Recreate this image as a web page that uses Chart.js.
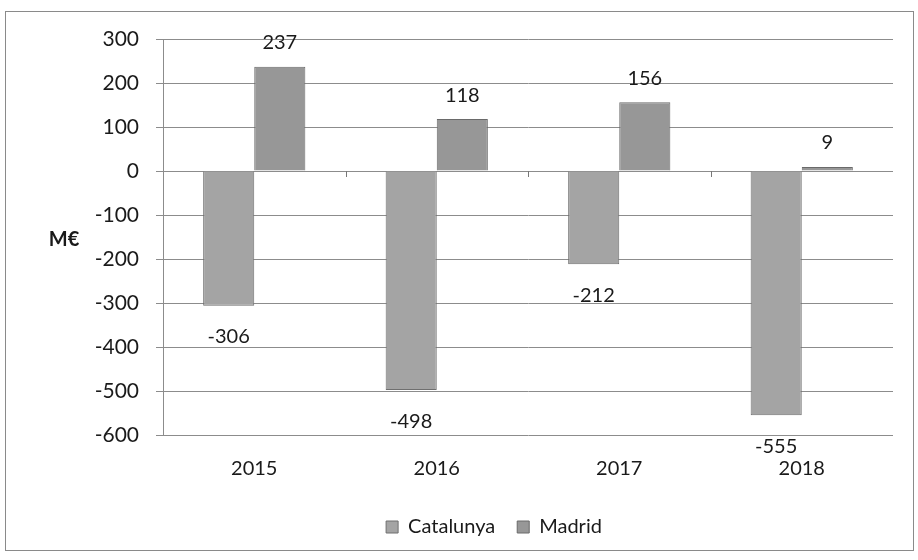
<!DOCTYPE html>
<html>
<head>
<meta charset="utf-8">
<script src="https://cdn.jsdelivr.net/npm/chart.js@4"></script>
<style>
  html, body { margin: 0; padding: 0; background: #fff; }
  #wrap { position: relative; width: 918px; height: 560px; }
</style>
</head>
<body>
<div id="wrap"><canvas id="c" width="918" height="560"></canvas></div>
<script>
const years = ['2015', '2016', '2017', '2018'];
const catalunya = [-306, -498, -212, -555];
const madrid = [237, 118, 156, 9];
const yTicks = { min: -600, max: 300, step: 100 };

const fontFamily = "Lato, 'Open Sans', sans-serif";

// frame, axis title, value labels, small ticks on the zero line
const decor = {
  id: 'decor',
  beforeDraw(chart) {
    const ctx = chart.ctx;
    ctx.save();
    ctx.fillStyle = '#fff';
    ctx.fillRect(0, 0, chart.width, chart.height);
    ctx.strokeStyle = '#8a8a8a';
    ctx.lineWidth = 1;
    ctx.strokeRect(5.5, 11.5, 908, 539);
    ctx.restore();
  },
  afterDatasetsDraw(chart) {
    const ctx = chart.ctx;
    const x = chart.scales.x, y = chart.scales.y;
    ctx.save();
    // tick marks on the zero line between categories
    const y0 = y.getPixelForValue(0);
    ctx.strokeStyle = '#777';
    ctx.lineWidth = 1;
    for (let i = 1; i < years.length; i++) {
      const px = Math.round((x.getPixelForTick(i - 1) + x.getPixelForTick(i)) / 2) + 0.5;
      ctx.beginPath();
      ctx.moveTo(px, y0);
      ctx.lineTo(px, y0 + 6);
      ctx.stroke();
    }
    // value labels
    ctx.fillStyle = '#1a1a1a';
    ctx.font = "20px " + fontFamily;
    ctx.textAlign = 'center';
    ctx.textBaseline = 'middle';
    chart.data.datasets.forEach((ds, di) => {
      chart.getDatasetMeta(di).data.forEach((bar, i) => {
        const v = ds.data[i];
        const off = v < 0 ? 31 : -24;
        ctx.fillText(String(v), bar.x, bar.y + off);
      });
    });
    // axis title
    ctx.font = "bold 20px " + fontFamily;
    ctx.fillText('M€', 64, 240);
    ctx.restore();
  }
};

new Chart(document.getElementById('c'), {
  type: 'bar',
  data: {
    labels: years,
    datasets: [
      { label: 'Catalunya', data: catalunya, backgroundColor: '#a4a4a4', borderColor: '#6f6f6f', borderWidth: 1 },
      { label: 'Madrid', data: madrid, backgroundColor: '#979797', borderColor: '#6a6a6a', borderWidth: 1 }
    ]
  },
  options: {
    responsive: false,
    animation: false,
    layout: { padding: { left: 95, right: 25, top: 39, bottom: 13 } },
    datasets: { bar: { barPercentage: 1, categoryPercentage: 0.56 } },
    plugins: {
      legend: {
        position: 'bottom',
        labels: {
          boxWidth: 12, boxHeight: 12, padding: 22,
          color: '#1a1a1a',
          font: { family: fontFamily, size: 20 }
        }
      },
      tooltip: { enabled: false }
    },
    scales: {
      x: {
        grid: { display: false },
        border: { display: false },
        ticks: { color: '#1a1a1a', padding: 14, font: { family: fontFamily, size: 20 } }
      },
      y: {
        min: yTicks.min, max: yTicks.max,
        afterFit(scale) { scale.width = 68; },
        ticks: { stepSize: yTicks.step, color: '#1a1a1a', padding: 17, font: { family: fontFamily, size: 21 } },
        grid: { color: '#8c8c8c', tickLength: 7, lineWidth: 1 },
        border: { color: '#8c8c8c' }
      }
    }
  },
  plugins: [decor]
});
</script>
</body>
</html>
